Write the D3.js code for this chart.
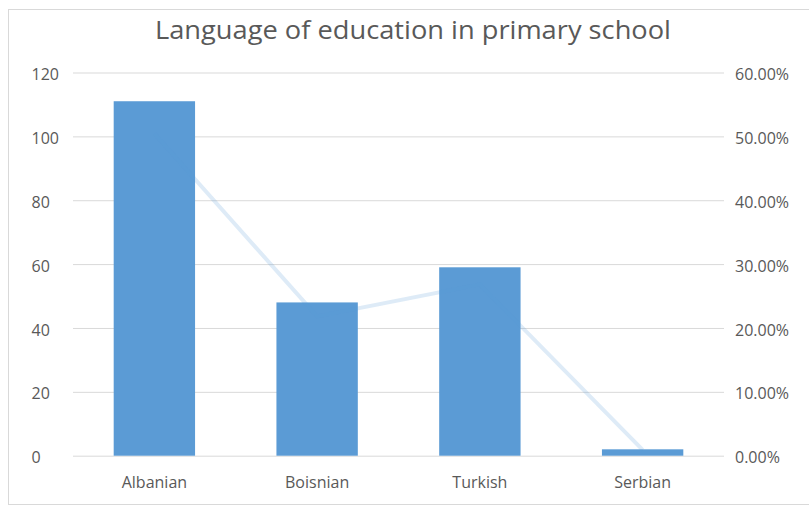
<!DOCTYPE html>
<html>
<head>
<meta charset="utf-8">
<script src="https://cdn.jsdelivr.net/npm/d3@7"></script>
<style>
  body { margin: 0; background: #fff; }
  svg text { font-family: "Open Sans", sans-serif; fill: #595959; }
</style>
</head>
<body>
<svg id="grafico"></svg>
<script>
// dados
var idiomas = ['Albanian', 'Boisnian', 'Turkish', 'Serbian'];
var escolas = [111, 48, 59, 2];
var percentuais = [0.5045, 0.2182, 0.2682, 0.0091];
var ticksEsquerda = [0, 20, 40, 60, 80, 100, 120];
var ticksDireita = [0, 0.1, 0.2, 0.3, 0.4, 0.5, 0.6];
var titulo = 'Language of education in primary school';

var largura = 809, altura = 509;
var svg = d3.select('#grafico')
            .attr('width', largura)
            .attr('height', altura);

// moldura do gráfico
svg.append('rect')
   .attr('x', 8.5).attr('y', 9.5)
   .attr('width', 820).attr('height', 495)
   .attr('fill', 'none')
   .attr('stroke', '#d9d9d9');

// área de plotagem
var esq = 73, dir = 724, topo = 72.5, base = 455.7;

var x = d3.scaleBand()
          .domain(idiomas)
          .range([esq, dir])
          .paddingInner(0.5)
          .paddingOuter(0.25);
var y = d3.scaleLinear().domain([0, 120]).range([base, topo]);
var yPct = d3.scaleLinear().domain([0, 0.6]).range([base, topo]);

// grade
var grade = svg.append('g')
   .attr('transform', 'translate(' + esq + ',0)')
   .call(d3.axisRight(y).tickValues(ticksEsquerda).tickSize(dir - esq).tickFormat(''));
grade.select('.domain').remove();
grade.selectAll('line').attr('stroke', '#d9d9d9');

// título
var tit = svg.append('text')
   .attr('x', 413).attr('y', 39)
   .attr('text-anchor', 'middle')
   .style('font-size', '26px')
   .text(titulo);
// ajuste fino da largura do título
var w = tit.node().getComputedTextLength();
if (Math.abs(w - 516) > 4) tit.attr('textLength', 516).attr('lengthAdjust', 'spacingAndGlyphs');

// barras
svg.selectAll('.barra')
   .data(idiomas)
   .enter().append('rect')
   .classed('barra', true)
   .attr('x', d => x(d))
   .attr('y', (d, i) => y(escolas[i]))
   .attr('width', x.bandwidth())
   .attr('height', (d, i) => base - y(escolas[i]))
   .attr('fill', '#5b9bd5');

// linha dos percentuais
var linha = d3.line()
   .x((d, i) => x(idiomas[i]) + x.bandwidth() / 2)
   .y(d => yPct(d));
svg.append('path')
   .datum(percentuais)
   .attr('d', linha)
   .attr('fill', 'none')
   .attr('stroke', '#5b9bd5')
   .attr('stroke-opacity', 0.2)
   .attr('stroke-width', 4);

// eixo esquerdo
var eixoY = svg.append('g')
   .attr('transform', 'translate(31.5,2)')
   .call(d3.axisRight(y).tickValues(ticksEsquerda).tickSize(0).tickPadding(0));
eixoY.select('.domain').remove();

// eixo direito
var eixoY2 = svg.append('g')
   .attr('transform', 'translate(735,2)')
   .call(d3.axisRight(yPct).tickValues(ticksDireita).tickSize(0).tickPadding(0)
          .tickFormat(d => (d * 100).toFixed(2) + '%'));
eixoY2.select('.domain').remove();

// eixo X
var eixoX = svg.append('g')
   .attr('transform', 'translate(0,' + base + ')')
   .call(d3.axisBottom(x).tickSize(0).tickPadding(21));
eixoX.select('.domain').remove();

svg.selectAll('.tick text')
   .style('font-size', '16px')
   .attr('fill', '#595959')
   .style('font-family', '"Open Sans", sans-serif');
</script>
</body>
</html>
